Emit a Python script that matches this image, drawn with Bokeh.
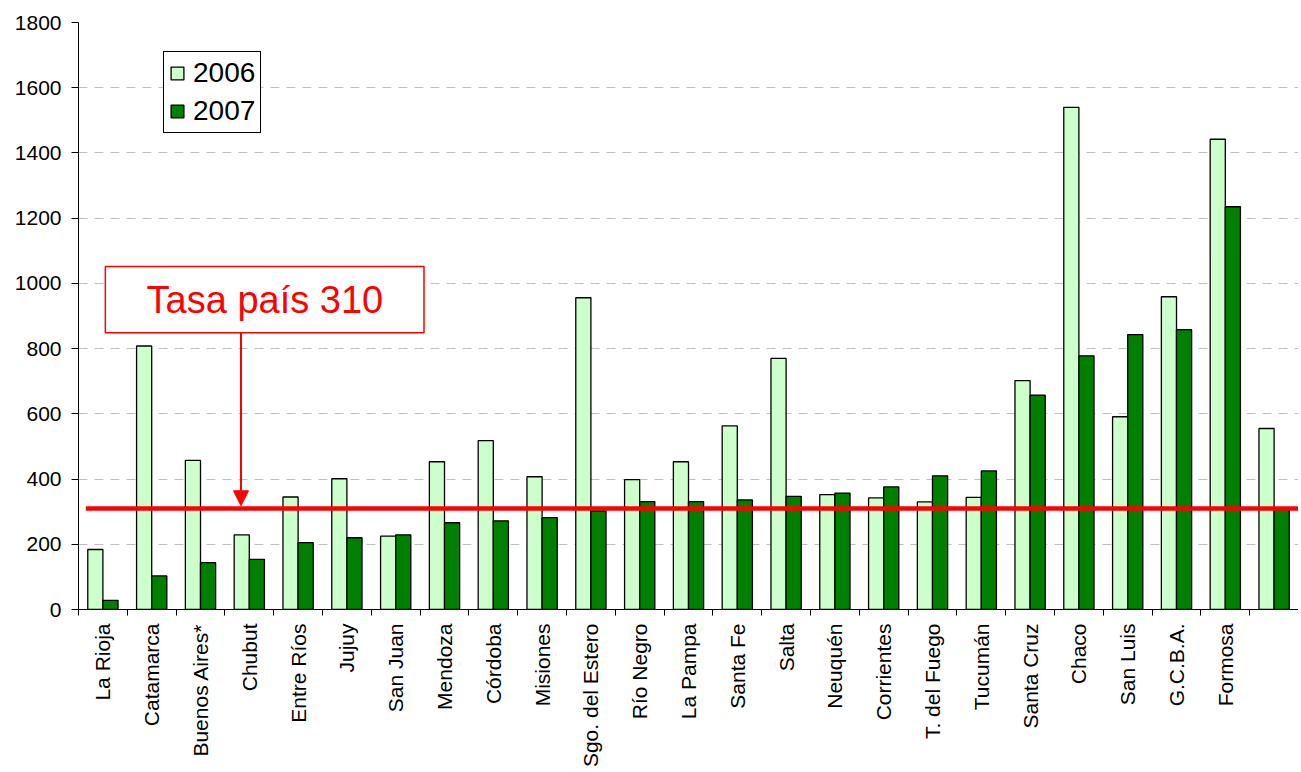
import math
from bokeh.plotting import figure
from bokeh.models import (Range1d, FixedTicker, Legend, LegendItem, Arrow, NormalHead,
                          Label, BoxAnnotation, ColumnDataSource)
from bokeh.embed import file_html
from bokeh.resources import INLINE

provincias = ["La Rioja", "Catamarca", "Buenos Aires*", "Chubut", "Entre Ríos", "Jujuy",
              "San Juan", "Mendoza", "Córdoba", "Misiones", "Sgo. del Estero", "Río Negro",
              "La Pampa", "Santa Fe", "Salta", "Neuquén", "Corrientes", "T. del Fuego",
              "Tucumán", "Santa Cruz", "Chaco", "San Luis", "G.C.B.A.", "Formosa", ""]
tasa_2006 = [184, 808, 457, 229, 345, 401, 225, 453, 518, 407, 956, 398,
             453, 563, 770, 352, 342, 330, 344, 702, 1540, 591, 959, 1442, 555]
tasa_2007 = [28, 103, 144, 154, 205, 220, 229, 266, 272, 282, 302, 331,
             331, 336, 347, 357, 376, 410, 425, 657, 778, 843, 858, 1235, 311]
TASA_PAIS = 310
y_ticks = [0, 200, 400, 600, 800, 1000, 1200, 1400, 1600, 1800]

FONT = "Liberation Sans"
n = len(provincias)
centers = [i + 0.5 for i in range(n)]
bw = 0.31

p = figure(frame_width=1220, frame_height=587, x_range=Range1d(0, n), y_range=Range1d(0, 1800),
           output_backend="svg", toolbar_location=None,
           min_border_left=78, min_border_top=22, min_border_right=0, min_border_bottom=0)
p.outline_line_color = None
p.background_fill_color = "white"
p.border_fill_color = "white"

src = ColumnDataSource(dict(
    x06=[c - bw / 2 for c in centers], x07=[c + bw / 2 for c in centers],
    v06=tasa_2006, v07=tasa_2007))
r06 = p.vbar(x="x06", top="v06", width=bw, source=src, fill_color="#CCFFCC",
             line_color="black", line_width=1.3)
r07 = p.vbar(x="x07", top="v07", width=bw, source=src, fill_color="#008000",
             line_color="black", line_width=1.3)

# national rate line
p.segment(x0=[0.15], y0=[TASA_PAIS], x1=[n], y1=[TASA_PAIS], line_color="red", line_width=4.5)

# axes
p.xaxis.ticker = FixedTicker(ticks=centers, minor_ticks=list(range(n + 1)))
p.xaxis.major_label_overrides = {c: name for c, name in zip(centers, provincias)}
p.xaxis.major_label_orientation = math.pi / 2
p.xaxis.major_tick_out = 0
p.xaxis.major_tick_in = 0
p.xaxis.minor_tick_out = 6
p.xaxis.minor_tick_in = 0
p.xaxis.minor_tick_line_color = "black"
p.xaxis.major_label_standoff = 8
p.xaxis.major_label_text_font = FONT
p.xaxis.major_label_text_font_size = "21px"
p.xaxis.major_label_text_color = "black"
p.xaxis.axis_line_color = "black"

p.yaxis.ticker = FixedTicker(ticks=y_ticks)
p.yaxis.major_tick_out = 7
p.yaxis.major_tick_in = 0
p.yaxis.minor_tick_out = 0
p.yaxis.minor_tick_in = 0
p.yaxis.major_label_standoff = 10
p.yaxis.major_label_text_font = FONT
p.yaxis.major_label_text_font_size = "21px"
p.yaxis.major_label_text_color = "black"
p.yaxis.axis_line_color = "black"
p.yaxis.major_tick_line_color = "black"

p.xgrid.grid_line_color = None
p.ygrid.ticker = FixedTicker(ticks=y_ticks)
p.ygrid.grid_line_color = "#BFBFBF"
p.ygrid.grid_line_dash = "9 7"
p.ygrid.grid_line_width = 1

# legend
legend = Legend(items=[LegendItem(label="2006", renderers=[r06]),
                       LegendItem(label="2007", renderers=[r07])],
                location=(85, 476), label_text_font=FONT, label_text_font_size="28px",
                label_text_color="black",
                glyph_width=16, glyph_height=16, label_standoff=8, padding=5, spacing=6,
                margin=0, border_line_color="black", border_line_width=1, border_line_alpha=1,
                background_fill_color="white", background_fill_alpha=1)
p.add_layout(legend)

# annotation box
p.add_layout(BoxAnnotation(left=0.55, right=7.08, top=1052, bottom=849, fill_color="white",
                           fill_alpha=1, line_color="red", line_width=1.5, line_alpha=1))
p.add_layout(Label(x=3.82, y=948, text="Tasa país 310", text_color="red",
                   text_font_size="38px", text_font=FONT, text_align="center",
                   text_baseline="middle"))
p.add_layout(Arrow(end=NormalHead(size=15, fill_color="red", line_color="red"),
                   x_start=3.33, y_start=849, x_end=3.33, y_end=318,
                   line_color="red", line_width=2))

open("out.html", "w").write(file_html(p, INLINE))
